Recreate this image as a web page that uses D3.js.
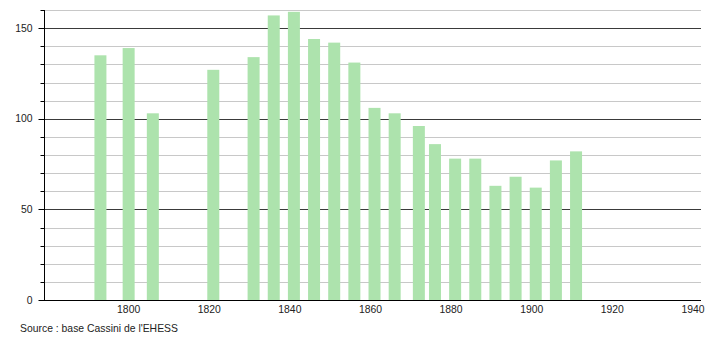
<!DOCTYPE html>
<html>
<head>
<meta charset="utf-8">
<script src="https://cdn.jsdelivr.net/npm/d3@7"></script>
<style>
  body { margin: 0; background: #fff; }
  svg { display: block; font-family: "Liberation Sans", Arial, sans-serif; }
</style>
</head>
<body>
<div id="chart"></div>
<script>
// Années des recensements
const years = [1793, 1800, 1806, 1821, 1831, 1836, 1841, 1846, 1851, 1856, 1861,
               1866, 1872, 1876, 1881, 1886, 1891, 1896, 1901, 1906, 1911];
// Population
const population = [135, 139, 103, 127, 134, 157, 159, 144, 142, 131, 106,
                     103, 96, 86, 78, 78, 63, 68, 62, 77, 82];
const xTicks = [1800, 1820, 1840, 1860, 1880, 1900, 1920, 1940];
const yMajor = [0, 50, 100, 150];
const yMinor = [10, 20, 30, 40, 60, 70, 80, 90, 110, 120, 130, 140, 160];
const source = "Source : base Cassini de l'EHESS";

const width = 710, height = 340;
const svg = d3.select('#chart').append('svg')
    .attr('width', width)
    .attr('height', height);

// Flou léger des barres
svg.append('defs').append('filter')
    .attr('id', 'soft')
    .attr('x', '-20%').attr('width', '140%')
    .append('feGaussianBlur')
    .attr('stdDeviation', 0.6);

const x = d3.scaleLinear().domain([1779, 1942]).range([44, 701]);
const y = d3.scaleLinear().domain([0, 160]).range([300, 10]);

// Grille secondaire
svg.selectAll('.minor')
    .data(yMinor)
    .enter().append('line')
    .attr('x1', 44).attr('x2', 701)
    .attr('y1', d => Math.round(y(d)) + 0.5)
    .attr('y2', d => Math.round(y(d)) + 0.5)
    .style('stroke', '#c8c8c8')
    .style('stroke-width', 1);

// Grille principale
svg.selectAll('.major')
    .data(yMajor.filter(d => d > 0))
    .enter().append('line')
    .attr('x1', 44).attr('x2', 701)
    .attr('y1', d => Math.round(y(d)) + 0.5)
    .attr('y2', d => Math.round(y(d)) + 0.5)
    .style('stroke', '#3a3a3a')
    .style('stroke-width', 1);

// Barres
const barW = 12;
svg.append('g')
    .attr('filter', 'url(#soft)')
    .selectAll('rect')
    .data(years)
    .enter().append('rect')
    .attr('x', d => x(d) - barW / 2)
    .attr('width', barW)
    .attr('y', (d, i) => y(population[i]))
    .attr('height', (d, i) => y(0) - y(population[i]))
    .style('fill', '#ade3ad');

// Axe Y avec graduations
const yAxis = svg.append('g').attr('transform', 'translate(44.5,0)');
yAxis.append('line')
    .attr('y1', 10).attr('y2', 300)
    .style('stroke', '#000');
yAxis.selectAll('.tmin')
    .data(yMinor)
    .enter().append('line')
    .attr('x1', -4).attr('x2', 0)
    .attr('y1', d => Math.round(y(d)) + 0.5)
    .attr('y2', d => Math.round(y(d)) + 0.5)
    .style('stroke', '#000');
yAxis.selectAll('.tmaj')
    .data(yMajor)
    .enter().append('line')
    .attr('x1', -6).attr('x2', 0)
    .attr('y1', d => Math.round(y(d)) + 0.5)
    .attr('y2', d => Math.round(y(d)) + 0.5)
    .style('stroke', '#000');
yAxis.selectAll('text')
    .data(yMajor)
    .enter().append('text')
    .attr('x', -12)
    .attr('y', d => y(d))
    .attr('dy', '0.35em')
    .attr('text-anchor', 'end')
    .style('font-size', '10.4px')
    .style('fill', '#222')
    .text(d => d);

// Axe X
svg.append('line')
    .attr('x1', 44).attr('x2', 701)
    .attr('y1', 300.5).attr('y2', 300.5)
    .style('stroke', '#000');
svg.selectAll('.xlab')
    .data(xTicks)
    .enter().append('text')
    .attr('x', d => x(d))
    .attr('y', 312.5)
    .attr('text-anchor', 'middle')
    .style('font-size', '10.4px')
    .style('fill', '#222')
    .text(d => d);

// Source
svg.append('text')
    .attr('x', 20)
    .attr('y', 332)
    .style('font-size', '10.4px')
    .style('fill', '#222')
    .text(source);
</script>
</body>
</html>
